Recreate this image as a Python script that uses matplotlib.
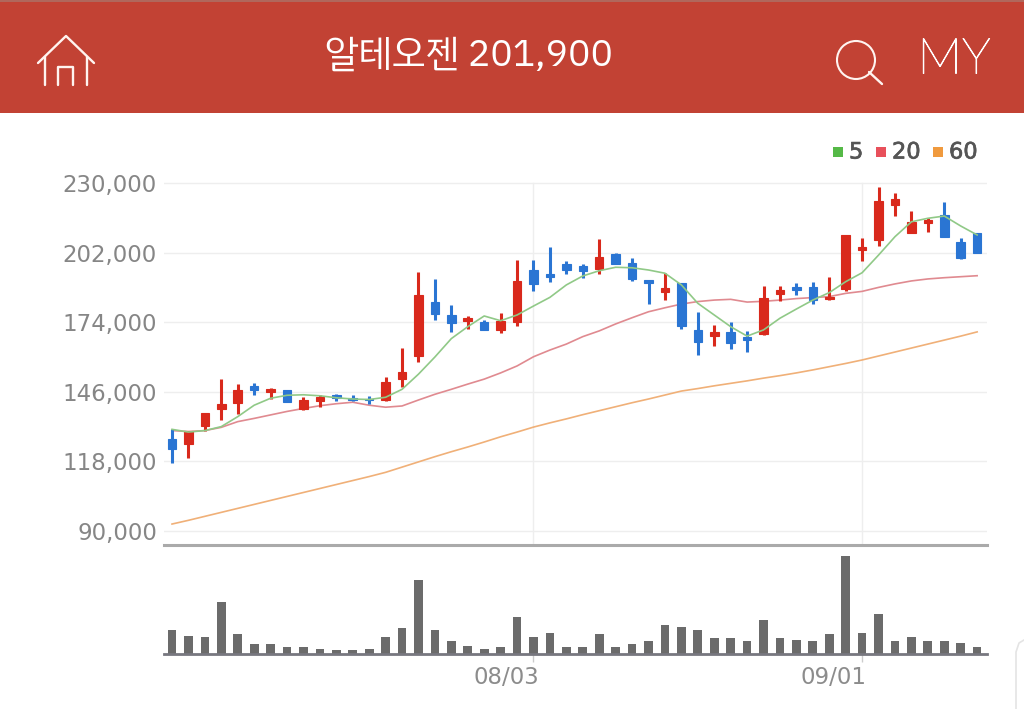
import numpy as np
import matplotlib
matplotlib.use("Agg")
import matplotlib.pyplot as plt
import matplotlib.patheffects as pe
from matplotlib import font_manager as fm
from matplotlib.patches import Rectangle, Circle

# 일봉 데이터
opens = [126900, 124900, 132200, 139200, 141600, 148500, 145800, 146700, 139100, 142300,
         144800, 143500, 143200, 142700, 151100, 160400, 182100, 176900, 174500, 174200,
         170700, 174200, 195000, 193400, 197500, 196700, 195300, 201600, 197800, 190800,
         186000, 189800, 171000, 168600, 169900, 167900, 169300, 185300, 188300, 188000,
         183200, 187200, 203000, 207100, 221000, 209900, 214000, 217000, 206100, 210000]
highs = [130900, 130400, 137600, 151300, 149000, 149500, 147700, 146700, 144000, 144800,
         145000, 144800, 144300, 151800, 163500, 194300, 191500, 181100, 176600, 174900,
         177600, 199200, 199200, 204400, 198600, 197400, 207300, 202000, 199700, 190800,
         193900, 189800, 178100, 173000, 173900, 170500, 188700, 188700, 189800, 190300,
         192100, 208900, 207900, 228300, 225800, 218900, 216100, 222400, 207700, 210000]
lows = [117200, 119500, 130400, 134700, 136900, 144600, 143000, 141800, 138700, 140000,
        142300, 142500, 141000, 142200, 148100, 158000, 174900, 170200, 171400, 170700,
        169500, 172500, 186600, 190000, 193500, 191800, 193500, 197500, 190600, 181200,
        182900, 171400, 160800, 164300, 163200, 162100, 168700, 182400, 184800, 181300,
        182900, 186700, 198800, 204700, 216700, 209900, 210400, 208100, 199400, 201900]
closes = [122900, 130100, 137300, 141000, 146700, 146600, 147300, 141800, 142600, 143900,
          143400, 142800, 142800, 150100, 154100, 185100, 177200, 173800, 175600, 170700,
          174600, 190400, 189500, 192100, 195100, 194700, 200200, 197500, 191200, 189600,
          187600, 172500, 166200, 169900, 165800, 166800, 183900, 187100, 187000, 182900,
          184000, 208900, 204400, 222900, 223600, 214200, 215100, 208100, 199800, 201900]

ma5 = [130900, 129800, 130400, 132000, 136000, 140600, 143400, 144600, 144800, 144400,
       143600, 143100, 142900, 143800, 147000, 153100, 160000, 167400, 172200, 176500,
       174600, 176900, 180500, 184000, 189000, 192600, 194700, 196100, 195900, 195000,
       193700, 189000, 181600, 176900, 172200, 168400, 170900, 175600, 179300, 182900,
       185900, 190300, 193900, 201000, 208400, 214400, 215800, 216700, 212700, 209100]
ma20 = [130400, 130000, 130400, 131700, 134000, 135300, 136700, 138100, 139300, 140400,
        141200, 141800, 140600, 139800, 140300, 142700, 145000, 147000, 149100, 151100,
        153600, 156400, 160100, 162800, 165200, 168200, 170500, 173300, 175800, 178200,
        179800, 181300, 182300, 182900, 183200, 182100, 182400, 182900, 183500, 183900,
        184300, 185600, 186400, 188000, 189400, 190600, 191400, 191900, 192300, 192700]
ma60 = [92800, 94300, 95900, 97500, 99100, 100700, 102300, 103900, 105500, 107100,
        108700, 110300, 111900, 113600, 115700, 117800, 119900, 121900, 123800, 125800,
        127900, 129800, 131800, 133500, 135100, 136800, 138400, 140000, 141600, 143100,
        144700, 146300, 147300, 148400, 149400, 150400, 151500, 152500, 153600, 154800,
        156100, 157400, 158800, 160400, 162000, 163600, 165200, 166800, 168400, 170100]

volumes = [73, 55, 51, 156, 60, 29, 29, 20, 20, 16, 11, 11, 16, 51, 77, 221, 73, 38, 25, 16,
           20, 112, 51, 64, 20, 20, 60, 20, 29, 38, 86, 82, 73, 47, 47, 38, 103, 47, 42, 38,
           60, 295, 64, 121, 38, 51, 38, 38, 34, 20]

price_ticks = [90000, 118000, 146000, 174000, 202000, 230000]
date_ticks = [22, 42]
date_labels = ["08/03", "09/01"]
ma_labels = ["5", "20", "60"]
ma_colors = ["#55b947", "#e8505b", "#f09a3e"]
title = "알테오젠 201,900"

W, H = 1024, 709
RED = "#d9291c"
BLUE = "#2a75d3"
TICK = "#868686"
FONT = "DejaVu Sans"

# 한글 글꼴 찾기 (고딕 우선)
names = {f.name for f in fm.fontManager.ttflist}
cjk = sorted(n for n in names if "Sans" in n and ("CJK" in n or n.endswith(" KR")))
cjk = sorted(cjk, key=lambda n: "KR" not in n)


def px_axes(fig, left, top, right, bottom):
    return fig.add_axes([left / W, 1 - bottom / H, (right - left) / W, (bottom - top) / H])


fig = plt.figure(figsize=(W / 100, H / 100), dpi=100, facecolor="white")

# 가격 차트
ax = px_axes(fig, 164, 160, 987, 545)
x = np.arange(len(closes))
ax.set_xlim(-0.487, 49.6)
ax.set_ylim(84370, 239250)
ax.set_yticks(price_ticks)
ax.set_yticklabels([f"{v:,}" for v in price_ticks], fontsize=16.5, color=TICK, family=FONT)
ax.set_xticks([])
ax.tick_params(axis="y", length=0, pad=5)
for s in ["top", "left", "right"]:
    ax.spines[s].set_visible(False)
ax.spines["bottom"].set_color("#aaaaaa")
ax.spines["bottom"].set_linewidth(2.2)
for v in price_ticks:
    ax.axhline(v, color="#eeeeee", lw=1, zorder=0)
for d in date_ticks:
    ax.plot([d, d], [84370, 230000], color="#eeeeee", lw=1, zorder=0)

ax.plot(x, ma60, color="#f0b078", lw=1.2, zorder=2)
ax.plot(x, ma20, color="#e08a90", lw=1.2, zorder=2)
ax.plot(x, ma5, color="#90c987", lw=1.2, zorder=4)

colors = [RED if c >= o else BLUE for o, c in zip(opens, closes)]
ax.vlines(x, lows, highs, colors=colors, lw=2.2, zorder=3)
tops = np.maximum(opens, closes)
bots = np.minimum(opens, closes)
ax.bar(x, tops - bots, bottom=bots, width=0.52, color=colors, edgecolor=colors, lw=0.8, zorder=3)

# 거래량
vax = px_axes(fig, 164, 549, 987, 654)
vax.set_xlim(-0.487, 49.6)
vax.set_ylim(0, 315)
vax.bar(x, volumes, width=0.53, color="#6b6b6b")
vax.set_yticks([])
vax.set_xticks(date_ticks)
vax.set_xticklabels([])
vax.tick_params(axis="x", length=6, color="#cccccc", width=1)
for s in ["top", "left", "right"]:
    vax.spines[s].set_visible(False)
vax.spines["bottom"].set_color("#77777f")
vax.spines["bottom"].set_linewidth(2)

# 헤더, 범례, 아이콘 (픽셀 좌표)
top = fig.add_axes([0, 0, 1, 1], facecolor="none")
top.set_xlim(0, W)
top.set_ylim(H, 0)
top.axis("off")
top.add_patch(Rectangle((0, 0), W, 113, color="#c24234", lw=0))
top.add_patch(Rectangle((0, 0), W, 2, color="#b0675c", lw=0))
top.text(469, 56, title, color="white", fontsize=27, ha="center", va="center", family=cjk + ["DejaVu Sans"])

home = dict(color="#fff4f0", lw=1.7, solid_capstyle="round")
top.plot([38, 66, 94], [63, 36, 63], **home)
top.plot([45, 45], [57, 85], **home)
top.plot([87, 87], [57, 85], **home)
top.plot([58, 58, 73, 73], [85, 67, 67, 85], **home)
top.add_patch(Circle((856, 60), 19, fill=False, ec="#fff4f0", lw=1.5))
top.plot([869, 882], [72, 84], color="#fff4f0", lw=1.7, solid_capstyle="round")
my = top.text(954, 60, "MY", color="white", fontsize=36, ha="center", va="center", family="Lato", weight="light")
my.set_path_effects([pe.withStroke(linewidth=0.7, foreground="white")])

for sq, tx, label, c in zip([833, 876, 933], [849, 892, 949], ma_labels, ma_colors):
    top.add_patch(Rectangle((sq, 147), 10, 10, color=c, lw=0))
    t = top.text(tx, 152.5, label, color="#555555", fontsize=16.2, ha="left", va="center", family=FONT)
    t.set_path_effects([pe.withStroke(linewidth=0.5, foreground="#555555")])

for d, label in zip([539, 867], date_labels):
    top.text(d, 678, label, color="#8c8c8c", fontsize=16.5, ha="right", va="center", family=FONT)

# 오른쪽 아래 둥근 모서리
top.plot([1024, 1019, 1016, 1016], [640, 643, 652, 709], color="#e4e4e4", lw=1.2)

fig.savefig("out.png", dpi=100, facecolor="white")
